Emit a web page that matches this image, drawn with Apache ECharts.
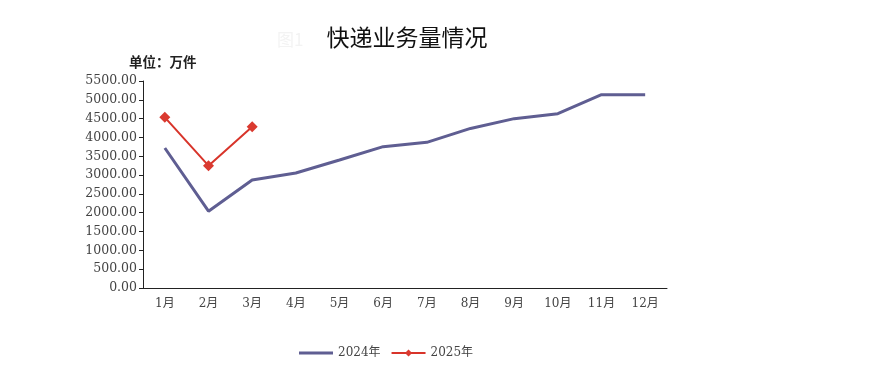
<!DOCTYPE html>
<html><head><meta charset="utf-8">
<script src="https://cdn.jsdelivr.net/npm/echarts@6/dist/echarts.min.js"></script>
<style>html,body{margin:0;padding:0;background:#fff}#c{width:894px;height:385px}</style>
</head><body><div id="c"></div>
<script>
var months = ['1月','2月','3月','4月','5月','6月','7月','8月','9月','10月','11月','12月'];
var s2024 = [3720, 2040, 2870, 3055, 3400, 3755, 3870, 4240, 4500, 4630, 5135, 5135];
var s2025 = [4535, 3250, 4285];
var seriesNames = ['2024年','2025年'];
var chart = echarts.init(document.getElementById('c'));
var serif = '"DejaVu Serif", "Liberation Serif", "Noto Sans CJK SC", serif';
chart.setOption({
  backgroundColor: '#fff',
  animation: false,
  title: [
    {text: '快递业务量情况', left: 402, top: 21, textAlign: 'center',
     textStyle: {fontSize: 23, fontWeight: 'normal', color: '#111', fontFamily: '"Noto Sans CJK SC", sans-serif'}},
    {text: '图1', left: 272, top: 26,
     textStyle: {fontSize: 17, fontWeight: 'normal', color: '#f3f3f3', fontFamily: '"Noto Sans CJK SC", sans-serif'}},
    {text: '单位：万件', left: 124, top: 50,
     textStyle: {fontSize: 13.5, fontWeight: 'bold', color: '#222', fontFamily: '"Noto Sans CJK SC", sans-serif'}}
  ],
  legend: {
    bottom: 21, left: 294, itemGap: 10, itemWidth: 34, itemHeight: 9,
    textStyle: {fontSize: 12, color: '#444', fontFamily: serif},
    data: [{name: seriesNames[0], icon: 'path://M0,3.5L34,3.5L34,6.5L0,6.5Z'}, {name: seriesNames[1]}]
  },
  grid: {left: 143, right: 227, top: 81, bottom: 97},
  xAxis: {
    type: 'category', data: months, boundaryGap: true,
    axisLine: {lineStyle: {color: '#222', width: 1}},
    axisTick: {inside: true, length: 5, lineStyle: {color: '#222'}},
    axisLabel: {color: '#444', fontSize: 12, margin: 10, fontFamily: serif}
  },
  yAxis: {
    type: 'value', min: 0, max: 5500, interval: 500,
    axisLine: {show: true, lineStyle: {color: '#222', width: 1}},
    axisTick: {show: true, length: 4, lineStyle: {color: '#222'}},
    splitLine: {show: false},
    axisLabel: {color: '#444', fontSize: 12.5, margin: 6, fontFamily: serif,
      formatter: function(v){return v.toFixed(2);}}
  },
  series: [
    {name: seriesNames[0], type: 'line', data: s2024, symbol: 'none',
     itemStyle: {color: '#5f5e92'}, lineStyle: {color: '#5f5e92', width: 3}},
    {name: seriesNames[1], type: 'line', data: s2025, symbol: 'diamond', symbolSize: 11,
     itemStyle: {color: '#da3a30'}, lineStyle: {color: '#d8342a', width: 2}}
  ]
});
</script></body></html>
